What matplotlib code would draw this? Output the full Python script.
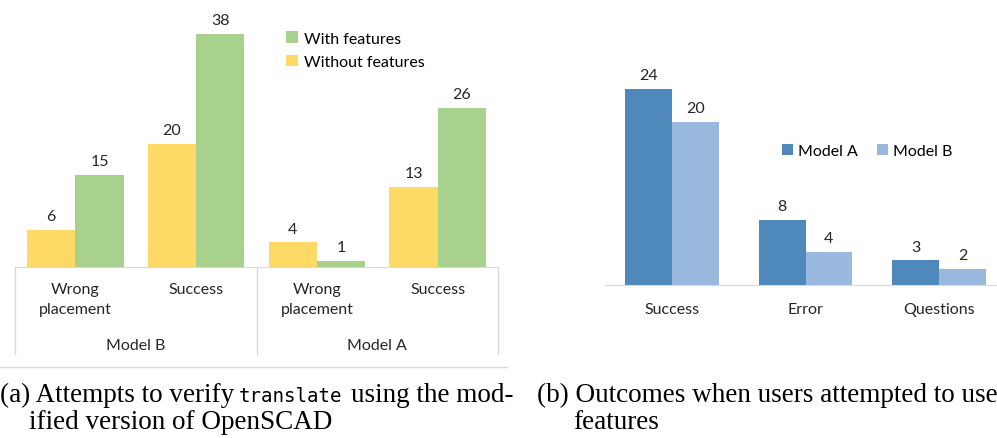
import matplotlib.pyplot as plt
import numpy as np

# left panel: attempts to verify translate
categories_a = ["Wrong\nplacement", "Success", "Wrong\nplacement", "Success"]
groups_a = ["Model B", "Model A"]
without_features = [6, 20, 4, 13]
with_features = [15, 38, 1, 26]

# right panel: outcomes when using features
categories_b = ["Success", "Error", "Questions"]
model_a = [24, 8, 3]
model_b = [20, 4, 2]

YELLOW = "#FFD966"
GREEN = "#A9D18E"
DARK_BLUE = "#4F88BB"
LIGHT_BLUE = "#98B8DE"
GRID = "#D9D9D9"
TXT = "#262626"
CHART_FONT = "Lato"

W, H = 997, 439
fig = plt.figure(figsize=(W / 100, H / 100), dpi=100)


def box(x0, y0, x1, y1):
    # pixel box (top-left origin) -> figure fraction rect
    return [x0 / W, 1 - y1 / H, (x1 - x0) / W, (y1 - y0) / H]


# ---- panel (a) ----
ax1 = fig.add_axes(box(15, 0, 498, 268))
x = np.arange(len(categories_a))
bw = 0.4
b1 = ax1.bar(x - bw / 2, without_features, bw, color=YELLOW, label="Without features")
b2 = ax1.bar(x + bw / 2, with_features, bw, color=GREEN, label="With features")
ax1.set_xlim(-0.5, 3.5)
ax1.set_ylim(0, 43.7)
for bars, vals in ((b1, without_features), (b2, with_features)):
    for r, v in zip(bars, vals):
        ax1.annotate(str(v), (r.get_x() + r.get_width() / 2, v), xytext=(0, 5),
                     textcoords="offset points", ha="center", va="bottom",
                     fontsize=11.5, family=CHART_FONT, color=TXT)
for s in ("top", "right", "left"):
    ax1.spines[s].set_visible(False)
ax1.spines["bottom"].set_color(GRID)
ax1.set_yticks([])
ax1.set_xticks([])

# category and group labels under the axis
px = 1 / 268.0
tr = ax1.get_xaxis_transform()
for xi, lab in zip(x, categories_a):
    ax1.text(xi, -15 * px, lab, transform=tr, ha="center", va="top",
             fontsize=11.5, family=CHART_FONT, color=TXT, linespacing=1.55)
for gi, lab in enumerate(groups_a):
    ax1.text(0.5 + 2 * gi, -78 * px, lab, transform=tr, ha="center", va="center",
             fontsize=11.5, family=CHART_FONT, color=TXT)
for xv in (-0.5, 1.5, 3.5):
    ax1.plot([xv, xv], [0, -87 * px], transform=tr, color=GRID, lw=1, clip_on=False)
fig.add_artist(plt.Line2D([0 / W, 507 / W], [1 - 368 / H, 1 - 368 / H],
                          color=GRID, lw=1))

h, l = ax1.get_legend_handles_labels()
ax1.legend(h[::-1], l[::-1], loc="center left", bbox_to_anchor=(0.532, 0.808),
           frameon=False, prop={"family": CHART_FONT, "size": 11.5},
           handlelength=0.7, handleheight=0.7, handletextpad=0.4, labelspacing=0.6)

# ---- panel (b) ----
ax2 = fig.add_axes(box(605, 50, 1006, 286))
x2 = np.arange(len(categories_b))
bw2 = 0.35
c1 = ax2.bar(x2 - bw2 / 2, model_a, bw2, color=DARK_BLUE, label="Model A")
c2 = ax2.bar(x2 + bw2 / 2, model_b, bw2, color=LIGHT_BLUE, label="Model B")
ax2.set_xlim(-0.5, 2.5)
ax2.set_ylim(0, 236 / 8.17)
for bars, vals in ((c1, model_a), (c2, model_b)):
    for r, v in zip(bars, vals):
        ax2.annotate(str(v), (r.get_x() + r.get_width() / 2, v), xytext=(0, 5),
                     textcoords="offset points", ha="center", va="bottom",
                     fontsize=11.5, family=CHART_FONT, color=TXT)
for s in ("top", "right", "left"):
    ax2.spines[s].set_visible(False)
ax2.spines["bottom"].set_color(GRID)
ax2.set_yticks([])
ax2.set_xticks(x2)
ax2.set_xticklabels(categories_b, fontsize=11.5, family=CHART_FONT, color=TXT)
ax2.tick_params(axis="x", length=0, pad=12)
ax2.legend(loc="center left", bbox_to_anchor=(0.406, 0.568), ncol=2, frameon=False,
           prop={"family": CHART_FONT, "size": 11.5}, handlelength=0.7,
           handleheight=0.7, handletextpad=0.3, columnspacing=1.2)

# ---- captions ----
SERIF = "Liberation Serif"
cap = dict(fontsize=19.5, family=SERIF, color="black", va="baseline")
y1 = 1 - 402 / H
y2 = 1 - 429 / H
fig.text(0 / W, y1, "(a) Attempts to verify", **cap)
fig.text(239 / W, y1, "translate", fontsize=13.8, family="DejaVu Sans Mono",
         va="baseline")
fig.text(351 / W, y1, "using the mod-", **cap)
fig.text(29 / W, y2, "ified version of OpenSCAD", **cap)
fig.text(537 / W, y1, "(b) Outcomes when users attempted to use", **cap)
fig.text(573 / W, y2, "features", **cap)

fig.savefig("out.png", dpi=100)
